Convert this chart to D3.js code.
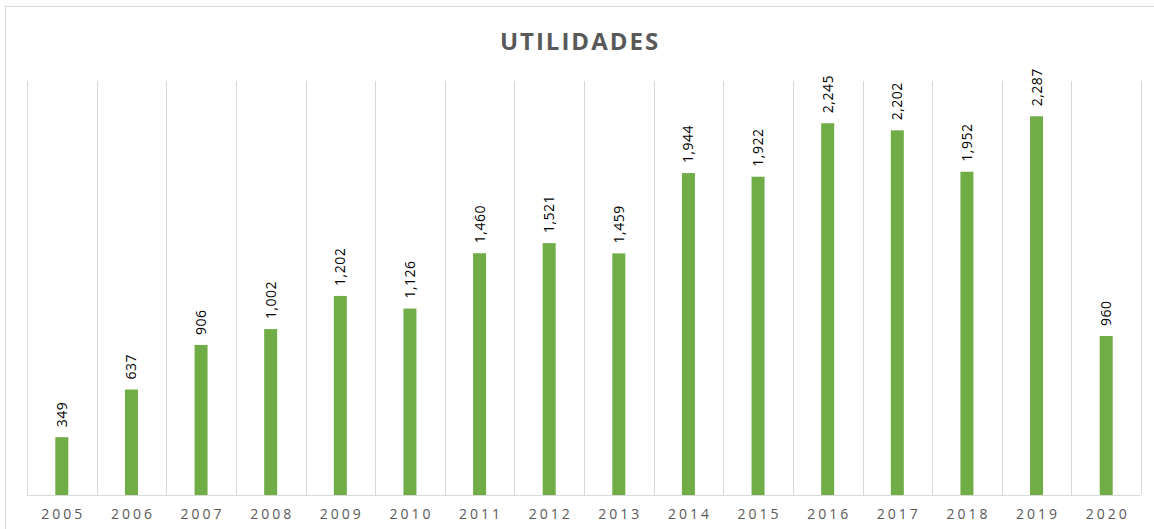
<!DOCTYPE html>
<html>
<head>
<meta charset="utf-8">
<script src="https://cdn.jsdelivr.net/npm/d3@7"></script>
<style>
  html, body { margin: 0; padding: 0; background: #fff; }
  svg { display: block; }
</style>
</head>
<body>
<svg id="chart" width="1154" height="529"></svg>
<script>
const title = "UTILIDADES";
const years = ["2005","2006","2007","2008","2009","2010","2011","2012","2013","2014","2015","2016","2017","2018","2019","2020"];
const utilidades = [349, 637, 906, 1002, 1202, 1126, 1460, 1521, 1459, 1944, 1922, 2245, 2202, 1952, 2287, 960];
const yDomain = [0, 2500];

const svg = d3.select("#chart");
const W = 1154, H = 529;
const plot = { left: 27, right: 1141, top: 81, bottom: 495 };

// outer frame
svg.append("rect")
  .attr("x", 5.5).attr("y", 6.5)
  .attr("width", 1160).attr("height", 540)
  .attr("fill", "#fff").attr("stroke", "#d9d9d9").attr("stroke-width", 1);

svg.append("text")
  .attr("x", 580).attr("y", 50)
  .attr("text-anchor", "middle")
  .attr("font-family", "'Open Sans', 'DejaVu Sans', sans-serif")
  .attr("font-weight", "bold")
  .attr("font-size", 24)
  .attr("letter-spacing", 2)
  .attr("fill", "#595959")
  .text(title);

const x = d3.scaleBand().domain(years).range([plot.left, plot.right]).paddingInner(0).paddingOuter(0);
const y = d3.scaleLinear().domain(yDomain).range([plot.bottom, plot.top]);

// vertical gridlines at category boundaries
const bounds = years.map(d => x(d)).concat([plot.right]);
svg.append("g").selectAll("line").data(bounds).join("line")
  .attr("x1", d => Math.round(d) + 0.5).attr("x2", d => Math.round(d) + 0.5)
  .attr("y1", plot.top).attr("y2", plot.bottom)
  .attr("stroke", "#d9d9d9").attr("stroke-width", 1);

// bars
const barW = 13;
svg.append("g").selectAll("rect").data(years).join("rect")
  .attr("x", (d) => x(d) + x.bandwidth() / 2 - barW / 2)
  .attr("y", (d, i) => y(utilidades[i]))
  .attr("width", barW)
  .attr("height", (d, i) => y(0) - y(utilidades[i]))
  .attr("fill", "#70ad47");

// x axis
const xAxis = d3.axisBottom(x).tickSize(0).tickPadding(14);
const gx = svg.append("g").attr("transform", `translate(0,${plot.bottom})`).call(xAxis);
gx.select(".domain").attr("stroke", "#d9d9d9").attr("d", `M${plot.left},0.5H${plot.right}`);
gx.selectAll("text")
  .attr("font-family", "'Open Sans', 'DejaVu Sans', sans-serif")
  .attr("font-size", 14)
  .attr("letter-spacing", 3)
  .attr("fill", "#595959")
  .attr("dx", 1.5);

// data labels
const fmt = d3.format(",");
svg.append("g").selectAll("text").data(years).join("text")
  .attr("transform", (d, i) => {
    const cx = x(d) + x.bandwidth() / 2 + 5;
    const ty = y(utilidades[i]) - 10;
    return `translate(${cx},${ty}) rotate(-90)`;
  })
  .attr("text-anchor", "start")
  .attr("font-family", "'Open Sans', 'DejaVu Sans', sans-serif")
  .attr("font-size", 14)
  .attr("letter-spacing", 0.5)
  .attr("fill", "#000")
  .text((d, i) => fmt(utilidades[i]));
</script>
</body>
</html>
